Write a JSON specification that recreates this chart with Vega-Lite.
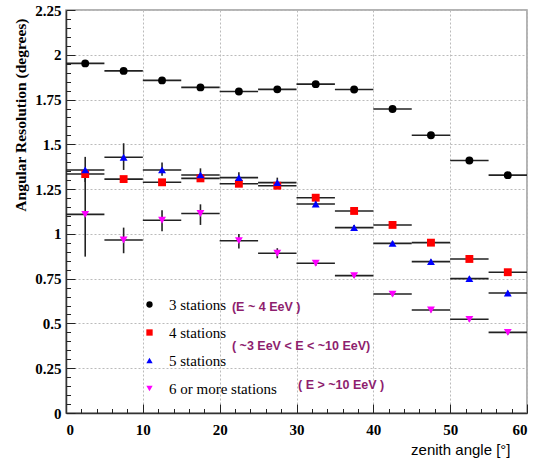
{
  "$schema": "https://vega.github.io/schema/vega-lite/v6.json",
  "autosize": "none",
  "width": 461,
  "height": 403,
  "padding": {"left": 66, "top": 10, "right": 9, "bottom": 48},
  "background": "white",
  "config": {
    "view": {"stroke": "#9a9a9a", "strokeWidth": 1.5},
    "axis": {
      "domainColor": "#333333",
      "domainWidth": 1.5,
      "tickColor": "#222222",
      "tickWidth": 1,
      "labelFont": "Liberation Serif",
      "labelFontWeight": "bold",
      "labelFontSize": 15,
      "labelColor": "black",
      "labelOverlap": false,
      "gridColor": "#bbbbbb",
      "gridDash": [2, 2],
      "gridWidth": 1
    }
  },
  "datasets": {
    "pts": [
      {"s": "3 stations", "x": 2.5, "xlo": 0, "xhi": 5, "y": 1.952, "ylo": 1.942, "yhi": 1.962},
      {"s": "3 stations", "x": 7.5, "xlo": 5, "xhi": 10, "y": 1.910, "ylo": 1.900, "yhi": 1.920},
      {"s": "3 stations", "x": 12.5, "xlo": 10, "xhi": 15, "y": 1.857, "ylo": 1.847, "yhi": 1.867},
      {"s": "3 stations", "x": 17.5, "xlo": 15, "xhi": 20, "y": 1.818, "ylo": 1.808, "yhi": 1.828},
      {"s": "3 stations", "x": 22.5, "xlo": 20, "xhi": 25, "y": 1.795, "ylo": 1.785, "yhi": 1.805},
      {"s": "3 stations", "x": 27.5, "xlo": 25, "xhi": 30, "y": 1.807, "ylo": 1.797, "yhi": 1.817},
      {"s": "3 stations", "x": 32.5, "xlo": 30, "xhi": 35, "y": 1.836, "ylo": 1.826, "yhi": 1.846},
      {"s": "3 stations", "x": 37.5, "xlo": 35, "xhi": 40, "y": 1.806, "ylo": 1.796, "yhi": 1.816},
      {"s": "3 stations", "x": 42.5, "xlo": 40, "xhi": 45, "y": 1.697, "ylo": 1.687, "yhi": 1.707},
      {"s": "3 stations", "x": 47.5, "xlo": 45, "xhi": 50, "y": 1.551, "ylo": 1.541, "yhi": 1.561},
      {"s": "3 stations", "x": 52.5, "xlo": 50, "xhi": 55, "y": 1.410, "ylo": 1.400, "yhi": 1.420},
      {"s": "3 stations", "x": 57.5, "xlo": 55, "xhi": 60, "y": 1.328, "ylo": 1.318, "yhi": 1.338},
      {"s": "4 stations", "x": 2.5, "xlo": 0, "xhi": 5, "y": 1.334, "ylo": 1.319, "yhi": 1.349},
      {"s": "4 stations", "x": 7.5, "xlo": 5, "xhi": 10, "y": 1.306, "ylo": 1.291, "yhi": 1.321},
      {"s": "4 stations", "x": 12.5, "xlo": 10, "xhi": 15, "y": 1.288, "ylo": 1.273, "yhi": 1.303},
      {"s": "4 stations", "x": 17.5, "xlo": 15, "xhi": 20, "y": 1.310, "ylo": 1.295, "yhi": 1.325},
      {"s": "4 stations", "x": 22.5, "xlo": 20, "xhi": 25, "y": 1.280, "ylo": 1.265, "yhi": 1.295},
      {"s": "4 stations", "x": 27.5, "xlo": 25, "xhi": 30, "y": 1.269, "ylo": 1.254, "yhi": 1.284},
      {"s": "4 stations", "x": 32.5, "xlo": 30, "xhi": 35, "y": 1.202, "ylo": 1.190, "yhi": 1.214},
      {"s": "4 stations", "x": 37.5, "xlo": 35, "xhi": 40, "y": 1.128, "ylo": 1.116, "yhi": 1.140},
      {"s": "4 stations", "x": 42.5, "xlo": 40, "xhi": 45, "y": 1.050, "ylo": 1.040, "yhi": 1.060},
      {"s": "4 stations", "x": 47.5, "xlo": 45, "xhi": 50, "y": 0.951, "ylo": 0.941, "yhi": 0.961},
      {"s": "4 stations", "x": 52.5, "xlo": 50, "xhi": 55, "y": 0.860, "ylo": 0.850, "yhi": 0.870},
      {"s": "4 stations", "x": 57.5, "xlo": 55, "xhi": 60, "y": 0.786, "ylo": 0.776, "yhi": 0.796},
      {"s": "5 stations", "x": 2.5, "xlo": 0, "xhi": 5, "y": 1.357, "ylo": 1.290, "yhi": 1.430},
      {"s": "5 stations", "x": 7.5, "xlo": 5, "xhi": 10, "y": 1.428, "ylo": 1.357, "yhi": 1.506},
      {"s": "5 stations", "x": 12.5, "xlo": 10, "xhi": 15, "y": 1.357, "ylo": 1.325, "yhi": 1.398},
      {"s": "5 stations", "x": 17.5, "xlo": 15, "xhi": 20, "y": 1.329, "ylo": 1.298, "yhi": 1.366},
      {"s": "5 stations", "x": 22.5, "xlo": 20, "xhi": 25, "y": 1.314, "ylo": 1.286, "yhi": 1.344},
      {"s": "5 stations", "x": 27.5, "xlo": 25, "xhi": 30, "y": 1.286, "ylo": 1.260, "yhi": 1.314},
      {"s": "5 stations", "x": 32.5, "xlo": 30, "xhi": 35, "y": 1.167, "ylo": 1.150, "yhi": 1.184},
      {"s": "5 stations", "x": 37.5, "xlo": 35, "xhi": 40, "y": 1.035, "ylo": 1.020, "yhi": 1.050},
      {"s": "5 stations", "x": 42.5, "xlo": 40, "xhi": 45, "y": 0.947, "ylo": 0.934, "yhi": 0.960},
      {"s": "5 stations", "x": 47.5, "xlo": 45, "xhi": 50, "y": 0.845, "ylo": 0.833, "yhi": 0.857},
      {"s": "5 stations", "x": 52.5, "xlo": 50, "xhi": 55, "y": 0.750, "ylo": 0.738, "yhi": 0.762},
      {"s": "5 stations", "x": 57.5, "xlo": 55, "xhi": 60, "y": 0.670, "ylo": 0.658, "yhi": 0.682},
      {"s": "6 or more stations", "x": 2.5, "xlo": 0, "xhi": 5, "y": 1.109, "ylo": 0.873, "yhi": 1.345},
      {"s": "6 or more stations", "x": 7.5, "xlo": 5, "xhi": 10, "y": 0.966, "ylo": 0.892, "yhi": 1.035},
      {"s": "6 or more stations", "x": 12.5, "xlo": 10, "xhi": 15, "y": 1.076, "ylo": 1.015, "yhi": 1.132},
      {"s": "6 or more stations", "x": 17.5, "xlo": 15, "xhi": 20, "y": 1.114, "ylo": 1.050, "yhi": 1.165},
      {"s": "6 or more stations", "x": 22.5, "xlo": 20, "xhi": 25, "y": 0.962, "ylo": 0.918, "yhi": 1.000},
      {"s": "6 or more stations", "x": 27.5, "xlo": 25, "xhi": 30, "y": 0.892, "ylo": 0.864, "yhi": 0.920},
      {"s": "6 or more stations", "x": 32.5, "xlo": 30, "xhi": 35, "y": 0.836, "ylo": 0.822, "yhi": 0.850},
      {"s": "6 or more stations", "x": 37.5, "xlo": 35, "xhi": 40, "y": 0.767, "ylo": 0.755, "yhi": 0.779},
      {"s": "6 or more stations", "x": 42.5, "xlo": 40, "xhi": 45, "y": 0.664, "ylo": 0.652, "yhi": 0.676},
      {"s": "6 or more stations", "x": 47.5, "xlo": 45, "xhi": 50, "y": 0.575, "ylo": 0.563, "yhi": 0.587},
      {"s": "6 or more stations", "x": 52.5, "xlo": 50, "xhi": 55, "y": 0.523, "ylo": 0.511, "yhi": 0.535},
      {"s": "6 or more stations", "x": 57.5, "xlo": 55, "xhi": 60, "y": 0.450, "ylo": 0.438, "yhi": 0.462}
    ],
    "notes": [
      {"x": 21.6, "y": 0.59, "t": "(E ~ 4 EeV )"},
      {"x": 21.6, "y": 0.375, "t": "( ~3 EeV < E < ~10 EeV)"},
      {"x": 30.2, "y": 0.155, "t": "( E >  ~10 EeV )"}
    ]
  },
  "resolve": {"axis": {"x": "independent", "y": "independent"}},
  "layer": [
    {
      "layer": [
        {
          "data": {"name": "pts"},
          "mark": {"type": "rule", "color": "#222222", "strokeWidth": 1.6},
          "encoding": {
            "x": {
              "field": "xlo", "type": "quantitative",
              "scale": {"domain": [0, 60], "nice": false, "zero": false},
              "axis": {
                "title": "zenith angle [°]",
                "titleFont": "Liberation Sans",
                "titleFontWeight": "normal",
                "titleFontSize": 15,
                "titleColor": "black",
                "titleAlign": "right",
                "titleBaseline": "alphabetic",
                "titleX": 444,
                "titleY": 41,
                "values": [0, 10, 20, 30, 40, 50, 60],
                "labelExpr": "datum.value + ''",
                "tickSize": -9,
                "grid": true,
                "labelPadding": 18
              }
            },
            "x2": {"field": "xhi"},
            "y": {
              "field": "y", "type": "quantitative",
              "scale": {"domain": [0, 2.25], "nice": false, "zero": false},
              "axis": {
                "title": "Angular Resolution (degrees)",
                "titleFont": "Liberation Serif",
                "titleFontWeight": "bold",
                "titleFontSize": 15.5,
                "titleColor": "black",
                "titleAngle": 270,
                "titleAlign": "right",
                "titleBaseline": "middle",
                "titleX": -46,
                "titleY": 8,
                "values": [0, 0.25, 0.5, 0.75, 1, 1.25, 1.5, 1.75, 2, 2.25],
                "labelExpr": "datum.value + ''",
                "tickSize": -9,
                "grid": true,
                "labelPadding": 14
              }
            }
          }
        },
        {
          "data": {"name": "pts"},
          "mark": {"type": "rule", "color": "#222222", "strokeWidth": 1.6},
          "encoding": {
            "x": {"field": "x", "type": "quantitative"},
            "y": {"field": "ylo", "type": "quantitative"},
            "y2": {"field": "yhi"}
          }
        },
        {
          "data": {"name": "pts"},
          "mark": {"type": "point", "filled": true, "opacity": 1, "size": 62},
          "encoding": {
            "x": {"field": "x", "type": "quantitative"},
            "y": {"field": "y", "type": "quantitative"},
            "color": {
              "field": "s", "type": "nominal",
              "scale": {"domain": ["3 stations", "4 stations", "5 stations", "6 or more stations"], "range": ["#000000", "#ff0000", "#0000ff", "#ff00ff"]},
              "legend": {
                "title": null,
                "orient": "none",
                "legendX": 76,
                "legendY": 287,
                "padding": 0,
                "labelFont": "Liberation Serif",
                "labelFontSize": 15,
                "labelColor": "black",
                "labelOffset": 12,
                "symbolSize": 40,
                "rowPadding": 12,
                "symbolStrokeWidth": 0
              }
            },
            "shape": {
              "field": "s", "type": "nominal",
              "scale": {"domain": ["3 stations", "4 stations", "5 stations", "6 or more stations"], "range": ["circle", "square", "triangle-up", "triangle-down"]}
            }
          }
        },
        {
          "data": {"name": "notes"},
          "mark": {"type": "text", "align": "left", "baseline": "middle", "font": "Liberation Sans", "fontWeight": "bold", "fontSize": 12.5, "color": "#8e1e6e"},
          "encoding": {
            "x": {"field": "x", "type": "quantitative"},
            "y": {"field": "y", "type": "quantitative"},
            "text": {"field": "t"}
          }
        }
      ]
    },
    {
      "data": {"name": "pts"},
      "mark": {"type": "point", "opacity": 0},
      "encoding": {
        "x": {
          "field": "x", "type": "quantitative",
          "axis": {
            "orient": "bottom",
            "values": [2, 4, 6, 8, 12, 14, 16, 18, 22, 24, 26, 28, 32, 34, 36, 38, 42, 44, 46, 48, 52, 54, 56, 58],
            "labels": false, "grid": false, "domain": false, "title": null, "tickSize": -4.5
          }
        },
        "y": {
          "field": "y", "type": "quantitative",
          "axis": {
            "orient": "left",
            "values": [0.05, 0.1, 0.15, 0.2, 0.3, 0.35, 0.4, 0.45, 0.55, 0.6, 0.65, 0.7, 0.8, 0.85, 0.9, 0.95, 1.05, 1.1, 1.15, 1.2, 1.3, 1.35, 1.4, 1.45, 1.55, 1.6, 1.65, 1.7, 1.8, 1.85, 1.9, 1.95, 2.05, 2.1, 2.15, 2.2],
            "labels": false, "grid": false, "domain": false, "title": null, "tickSize": -4.5
          }
        }
      }
    }
  ]
}
